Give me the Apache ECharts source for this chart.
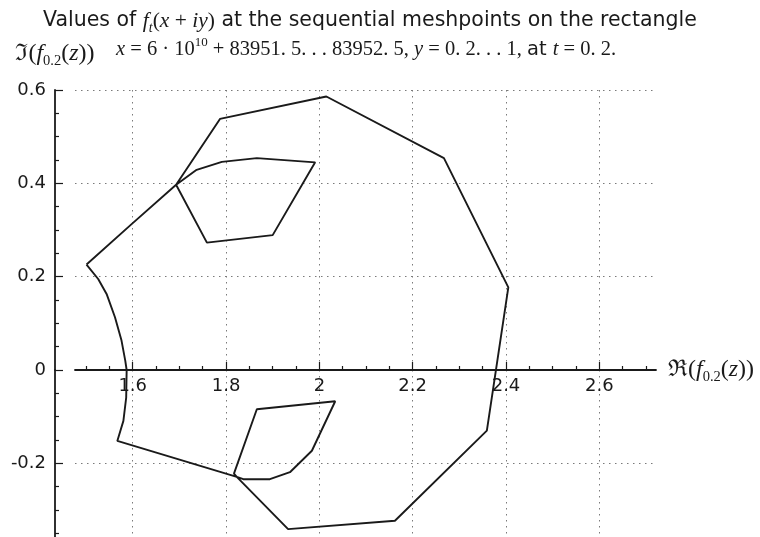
<!DOCTYPE html>
<html>
<head>
<meta charset="utf-8">
<script src="https://cdn.jsdelivr.net/npm/echarts@6/dist/echarts.min.js"></script>
<style>
    html, body { margin: 0; padding: 0; background: #fff; }
    #chart { width: 760px; height: 537px; }
</style>
</head>
<body>
<div id="chart"></div>
<script>
// 曲线上的点 (按顺序), 实部和虚部
let reVals = [1.501, 1.597, 1.693, 1.737, 1.791, 1.866, 1.991, 1.900, 1.759, 1.693,
    1.787, 2.015, 2.267, 2.405, 2.359, 2.162, 1.933, 1.823,
    1.837, 1.894, 1.937, 1.984, 2.034, 1.866, 1.817, 1.823,
    1.567, 1.580, 1.586, 1.587, 1.584, 1.576, 1.562, 1.544, 1.526, 1.501];
let imVals = [0.226, 0.312, 0.397, 0.429, 0.446, 0.454, 0.445, 0.289, 0.273, 0.397,
    0.538, 0.586, 0.454, 0.177, -0.130, -0.323, -0.341, -0.229,
    -0.234, -0.234, -0.219, -0.173, -0.067, -0.084, -0.222, -0.229,
    -0.152, -0.109, -0.059, 0, 0.020, 0.063, 0.113, 0.163, 0.195, 0.226];
// 刻度
let xTicks = [1.6, 1.8, 2, 2.2, 2.4, 2.6];
let yTicksLow = [-0.2];

window.addEventListener('load', function() {
    let myChart = echarts.init(document.getElementById('chart'));

    let pts = reVals.map(function(v, i) {
        return [v, imVals[i]];
    });

    let sans = 'DejaVu Sans';
    let serif = 'Liberation Serif';
    let ink = '#1a1a1a';

    let dots = {
        color: '#7a7a7a',
        width: 1,
        type: [1.5, 4.5]
    };
    let axisLn = { color: ink, width: 1.8 };
    let tickLn = { color: ink, width: 1.2 };

    // 坐标轴名称的富文本
    let nameRich = {
        fr: { fontFamily: 'DejaVu Serif', fontSize: 23, color: ink, lineHeight: 30 },
        r: { fontFamily: serif, fontSize: 24, color: ink, lineHeight: 30 },
        m: { fontFamily: serif, fontStyle: 'italic', fontSize: 24, color: ink, lineHeight: 30 },
        s: { fontFamily: serif, fontSize: 14.5, color: ink, verticalAlign: 'bottom', lineHeight: 24 }
    };

    // x轴范围 (两个grid共用)
    let xMin = 1.4763, xMax = 2.7215;

    let option = {
        animation: false,
        backgroundColor: '#fff',
        title: [{
            left: 38,
            top: 2,
            text: '{a|Values of }{m|f}{s|t}{r|(}{m|x}{r| + }{m|iy}{r|)}{a| at the sequential meshpoints on the rectangle}',
            textStyle: {
                fontWeight: 'normal',
                rich: {
                    a: { fontFamily: sans, fontSize: 20.5, fontWeight: 'normal', color: ink, lineHeight: 28 },
                    m: { fontFamily: serif, fontStyle: 'italic', fontWeight: 'normal', fontSize: 21.5, color: ink, lineHeight: 28 },
                    r: { fontFamily: serif, fontSize: 21.5, fontWeight: 'normal', color: ink, lineHeight: 28 },
                    s: { fontFamily: serif, fontStyle: 'italic', fontWeight: 'normal', fontSize: 14, color: ink, verticalAlign: 'bottom', lineHeight: 24 }
                }
            }
        }, {
            left: 111,
            top: 31,
            text: '{m|x}{r| = 6 · 10}{p|10}{r| + 83951. 5. . . 83952. 5, }{m|y}{r| = 0. 2. . . 1, }{a|at }{m|t}{r| = 0. 2.}',
            textStyle: {
                fontWeight: 'normal',
                rich: {
                    a: { fontFamily: sans, fontSize: 19.5, fontWeight: 'normal', color: ink, lineHeight: 28 },
                    m: { fontFamily: serif, fontStyle: 'italic', fontWeight: 'normal', fontSize: 20.5, color: ink, lineHeight: 28 },
                    r: { fontFamily: serif, fontSize: 20.5, fontWeight: 'normal', color: ink, lineHeight: 28 },
                    p: { fontFamily: serif, fontSize: 13, fontWeight: 'normal', color: ink, verticalAlign: 'top', lineHeight: 22 }
                }
            }
        }],
        // 上半部分 (y >= 0) 和下半部分 (y <= 0)
        grid: [{
            left: 75,
            right: 104,
            top: 90,
            height: 280,
            outerBoundsMode: 'none'
        }, {
            left: 75,
            right: 104,
            top: 370,
            bottom: 0,
            outerBoundsMode: 'none'
        }],
        xAxis: [{
            gridIndex: 0,
            type: 'value',
            min: xMin,
            max: xMax,
            splitNumber: 6,
            position: 'bottom',
            name: '{fr|ℜ}{r|(}{m|f}{s|0.2}{r|(}{m|z}{r|))}',
            nameLocation: 'end',
            nameGap: 12,
            nameTextStyle: {
                align: 'left',
                verticalAlign: 'middle',
                rich: nameRich
            },
            axisLine: { onZero: false, lineStyle: axisLn },
            axisTick: {
                inside: true,
                length: 8,
                customValues: xTicks,
                lineStyle: tickLn
            },
            minorTick: {
                show: true,
                splitNumber: 4,
                length: 4,
                lineStyle: tickLn
            },
            axisLabel: {
                customValues: xTicks,
                fontFamily: sans,
                fontSize: 18,
                color: ink,
                margin: 7
            },
            splitLine: { show: true, lineStyle: dots }
        }, {
            gridIndex: 1,
            type: 'value',
            min: xMin,
            max: xMax,
            splitNumber: 6,
            axisLine: { show: false },
            axisTick: { show: false, customValues: xTicks },
            axisLabel: { show: false },
            splitLine: { show: true, lineStyle: dots }
        }],
        yAxis: [{
            gridIndex: 0,
            type: 'value',
            min: 0,
            max: 0.6,
            interval: 0.2,
            offset: 20,
            name: '{fr|ℑ}{r|(}{m|f}{s|0.2}{r|(}{m|z}{r|))}',
            nameLocation: 'end',
            nameGap: 21,
            nameTextStyle: { rich: nameRich },
            axisLine: { show: true, onZero: false, lineStyle: axisLn },
            axisTick: { show: true, inside: true, length: 8, lineStyle: tickLn },
            minorTick: { show: true, splitNumber: 4, length: 4, lineStyle: tickLn },
            axisLabel: {
                fontFamily: sans,
                fontSize: 18,
                color: ink,
                margin: 9
            },
            splitLine: { show: true, lineStyle: dots }
        }, {
            gridIndex: 1,
            type: 'value',
            min: -0.3578,
            max: 0,
            splitNumber: 2,
            offset: 20,
            axisLine: { show: true, onZero: false, lineStyle: axisLn },
            axisTick: { show: true, inside: true, length: 8, customValues: yTicksLow, lineStyle: tickLn },
            minorTick: { show: true, splitNumber: 4, length: 4, lineStyle: tickLn },
            axisLabel: {
                customValues: yTicksLow,
                fontFamily: sans,
                fontSize: 18,
                color: ink,
                margin: 9
            },
            splitLine: { show: true, lineStyle: dots }
        }],
        series: [{
            type: 'line',
            xAxisIndex: 0,
            yAxisIndex: 0,
            data: pts,
            showSymbol: false,
            clip: true,
            lineStyle: { color: ink, width: 1.9 }
        }, {
            type: 'line',
            xAxisIndex: 1,
            yAxisIndex: 1,
            data: pts,
            showSymbol: false,
            clip: true,
            lineStyle: { color: ink, width: 1.9 }
        }]
    };

    myChart.setOption(option);
});
</script>
</body>
</html>
